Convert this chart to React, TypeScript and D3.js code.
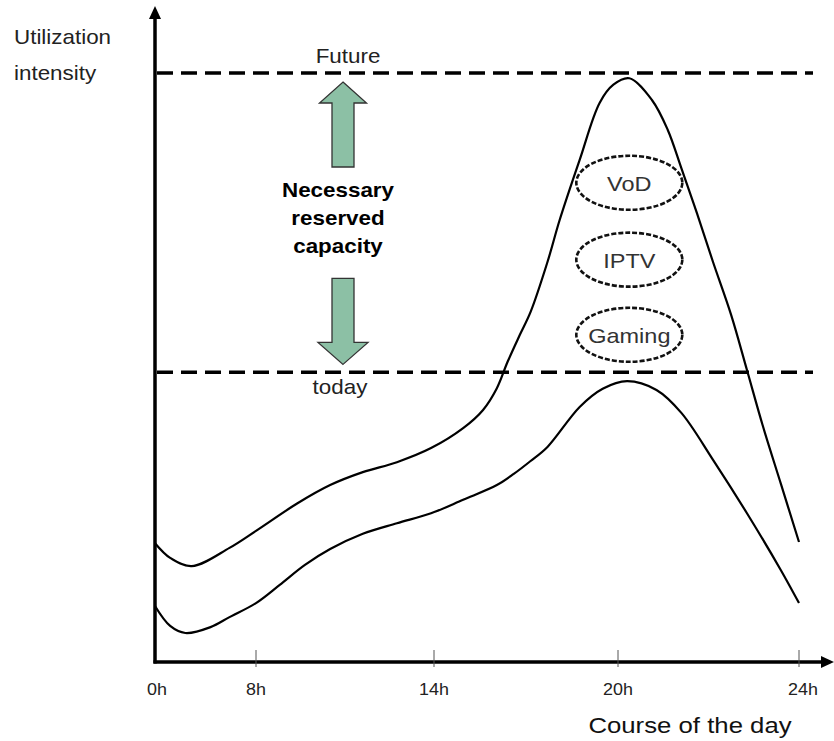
import * as d3 from 'd3';

// hour ticks on the (non-uniform) time axis
const tickHours = [0, 8, 14, 20, 24];
const tickLabels = ['0h', '8h', '14h', '20h', '24h'];

// future demand curve
const futureHours = [0, 1.2, 2.9, 5.9, 8.0, 9.4, 10.5, 11.6, 12.75, 13.9, 14.95, 15.6, 16.05, 16.4, 16.8, 17.15, 17.7, 18.1, 18.75, 19.4, 19.85, 20.25, 20.75, 21.1, 21.4, 21.75, 22.1, 22.5, 22.85, 23.2, 23.6, 24];
const futureLoad = [19.9, 17.4, 16.0, 19.1, 22.0, 26.7, 29.8, 32.0, 33.7, 36.1, 39.5, 42.6, 46.3, 50.8, 55.4, 59.3, 67.8, 75.0, 85.2, 94.9, 98.0, 99.1, 95.4, 90.3, 83.8, 76.0, 67.8, 58.8, 49.4, 39.9, 30.0, 20.1];

// today's demand curve
const todayHours = [0, 1.2, 2.4, 4.4, 5.9, 8.0, 8.8, 9.65, 10.5, 11.6, 12.75, 13.9, 14.95, 16.05, 16.6, 17.15, 17.7, 18.75, 19.5, 20.2, 20.85, 21.4, 22.1, 22.85, 23.6, 24];
const todayLoad = [9.2, 5.8, 4.6, 5.6, 7.3, 9.7, 12.8, 16.2, 18.9, 21.5, 23.3, 25.0, 27.3, 29.8, 31.7, 33.9, 36.3, 43.1, 46.2, 47.5, 46.0, 42.1, 34.1, 25.0, 15.3, 9.7];

// capacity levels
const futureLevel = 100;
const todayLevel = 49;

// services driving the evening peak
const services = ['VoD', 'IPTV', 'Gaming'];
const serviceLevels = [81.3, 68.2, 55.4];
const servicePeakHour = 20.25;

const W = 834;
const H = 741;
const FONT = '"Liberation Sans", Arial, sans-serif';
const STRETCH = 1.12;

const x = d3.scaleLinear().domain(tickHours).range([155, 256, 434, 618, 799]);
const y = d3.scaleLinear().domain([0, 100]).range([660, 73]);

const line = d3.line<[number, number]>()
  .x(d => x(d[0]))
  .y(d => y(d[1]))
  .curve(d3.curveCatmullRom.alpha(0.5));

const futurePath = line(futureHours.map((h, i) => [h, futureLoad[i]] as [number, number])) || '';
const todayPath = line(todayHours.map((h, i) => [h, todayLoad[i]] as [number, number])) || '';

type TProps = {
  x: number; y: number; size: number; anchor?: string; weight?: string; fill?: string; children: string;
};
const T = ({ x, y, size, anchor = 'start', weight = 'normal', fill = '#222', children }: TProps) => (
  <text
    transform={`translate(${x},${y}) scale(${STRETCH},1)`}
    fontFamily={FONT}
    fontSize={size}
    fontWeight={weight}
    textAnchor={anchor}
    fill={fill}
  >
    {children}
  </text>
);

// block arrow, tip at (cx, tipY); dir = -1 points up, 1 points down
const blockArrow = (cx: number, tipY: number, dir: number, headH: number, headW: number, shaftW: number, len: number) => {
  const b = tipY - dir * headH;
  const e = tipY - dir * len;
  return [
    [cx, tipY], [cx + headW, b], [cx + shaftW, b], [cx + shaftW, e],
    [cx - shaftW, e], [cx - shaftW, b], [cx - headW, b],
  ].map(p => p.join(',')).join(' ');
};

export default function App() {
  const axisY = y(0) + 2;
  const axisX = x(0);
  const lineStart = axisX + 2;
  const lineEnd = x(24) + 14;
  const arrowX = 343;
  const upTip = y(futureLevel) + 9;
  const downTip = y(todayLevel) - 8;

  return (
    <svg width={W} height={H} style={{ position: 'absolute', left: 0, top: 0, background: '#fff' }}>
      {/* reference capacity lines */}
      {[futureLevel, todayLevel].map(l => (
        <line key={l} x1={lineStart} x2={lineEnd} y1={y(l)} y2={y(l)}
          stroke="#000" strokeWidth={3.5} strokeDasharray="16,8" />
      ))}
      <T x={348} y={y(futureLevel) - 10} size={20} anchor="middle">Future</T>
      <T x={340} y={y(todayLevel) + 22} size={20} anchor="middle">today</T>

      {/* green arrows */}
      <polygon points={blockArrow(arrowX, upTip, -1, 21, 23.5, 11, 85)}
        fill="#8cc0a5" stroke="#333" strokeWidth={1.3} />
      <polygon points={blockArrow(arrowX, downTip, 1, 22, 25, 11, 86)}
        fill="#8cc0a5" stroke="#333" strokeWidth={1.3} />
      {['Necessary', 'reserved', 'capacity'].map((s, i) => (
        <T key={s} x={338} y={197 + i * 28} size={20} anchor="middle" weight="bold" fill="#000">{s}</T>
      ))}

      {/* curves */}
      <path d={futurePath} fill="none" stroke="#000" strokeWidth={2.2} />
      <path d={todayPath} fill="none" stroke="#000" strokeWidth={2.2} />

      {/* services */}
      {services.map((s, i) => (
        <g key={s}>
          <ellipse cx={x(servicePeakHour)} cy={y(serviceLevels[i])} rx={53} ry={27}
            fill="none" stroke="#111" strokeWidth={2.6} strokeDasharray="5,2" />
          <T x={x(servicePeakHour)} y={y(serviceLevels[i]) + 8} size={21} anchor="middle" fill="#333">{s}</T>
        </g>
      ))}

      {/* axes */}
      <line x1={axisX} x2={axisX} y1={axisY + 1.5} y2={18} stroke="#000" strokeWidth={3.5} />
      <polygon points={`${axisX - 6},19 ${axisX},6 ${axisX + 6},19`} fill="#000" />
      <line x1={axisX - 1.5} x2={822} y1={axisY} y2={axisY} stroke="#000" strokeWidth={3.5} />
      <polygon points={`821,${axisY - 6} 834,${axisY} 821,${axisY + 6}`} fill="#000" />
      {tickHours.map((h, i) => (
        <g key={h}>
          {i > 0 && <line x1={x(h)} x2={x(h)} y1={axisY - 12} y2={axisY + 5} stroke="#555" strokeWidth={1} />}
          <T x={x(h) + (i === 0 ? 2 : i === 4 ? 4 : 0)} y={695} size={16} anchor="middle" fill="#222">{tickLabels[i]}</T>
        </g>
      ))}

      {/* axis titles */}
      <T x={14} y={44} size={20}>Utilization</T>
      <T x={14} y={80} size={20}>intensity</T>
      <T x={690} y={733} size={23} anchor="middle" fill="#111">Course of the day</T>
    </svg>
  );
}
